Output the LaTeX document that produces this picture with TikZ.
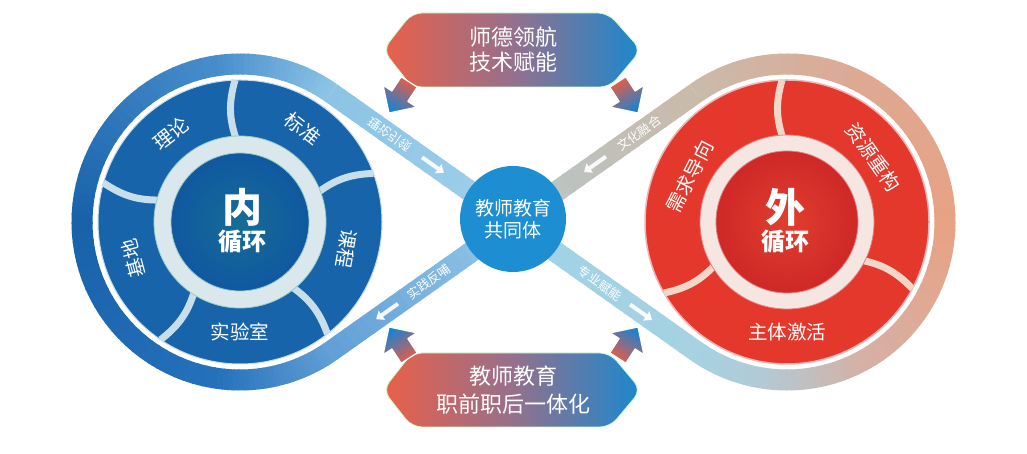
\documentclass[tikz,border=0pt]{standalone}
\usepackage{fontspec}
\newfontfamily\cjk{Noto Sans CJK SC}
\usetikzlibrary{calc,arrows.meta}
% band colours
\definecolor{lbA}{RGB}{140,196,229}
\definecolor{lbB}{RGB}{70,140,203}
\definecolor{lbC}{RGB}{24,98,170}
\definecolor{lbD}{RGB}{36,112,186}
\definecolor{lbE}{RGB}{98,160,214}
\definecolor{lsA}{RGB}{160,208,234}
\definecolor{lsB}{RGB}{150,200,232}
\definecolor{rbA}{RGB}{202,186,170}
\definecolor{rbB}{RGB}{222,168,146}
\definecolor{rbC}{RGB}{232,162,132}
\definecolor{rbD}{RGB}{214,176,164}
\definecolor{rbE}{RGB}{178,202,214}
\definecolor{rbF}{RGB}{166,210,226}
\definecolor{rsA}{RGB}{184,198,200}
\definecolor{rsB}{RGB}{160,210,230}
% discs
\definecolor{ldiscc}{RGB}{24,100,170}
\definecolor{linA}{RGB}{22,108,150}
\definecolor{linB}{RGB}{16,88,160}
\definecolor{lringc}{RGB}{218,232,238}
\definecolor{lringe}{RGB}{150,205,190}
\definecolor{ldivc}{RGB}{200,222,234}
\definecolor{rdiscc}{RGB}{228,56,44}
\definecolor{rinA}{RGB}{226,62,46}
\definecolor{rinB}{RGB}{206,40,40}
\definecolor{rringc}{RGB}{246,230,225}
\definecolor{rringe}{RGB}{230,130,130}
\definecolor{rdivc}{RGB}{242,214,200}
\definecolor{ctrc}{RGB}{30,142,210}
\definecolor{bred}{RGB}{234,96,72}
\definecolor{bmid}{RGB}{150,112,140}
\definecolor{bblue}{RGB}{26,136,206}
\definecolor{gred}{RGB}{232,92,70}
\definecolor{gblue}{RGB}{24,130,210}
\tikzset{
  bandseg/.style={line width=21pt, line cap=butt},
  lab/.style={text=white, inner sep=0pt, font={\cjk\fontsize{19.5pt}{20pt}\selectfont}},
  bigc/.style={text=white, inner sep=0pt, font={\cjk\bfseries\fontsize{40pt}{40pt}\selectfont}},
  midc/.style={text=white, inner sep=0pt, font={\cjk\bfseries\fontsize{24pt}{24pt}\selectfont}},
  stext/.style={text=white, inner sep=0pt, font={\cjk\fontsize{12.5pt}{13pt}\selectfont}},
  sarrow/.style={draw=white, line width=4pt, -{Triangle[length=7pt,width=11pt]}, opacity=0.9},
  btext/.style={text=white, align=center, inner sep=0pt},
  banner/.style={left color=bred, right color=bblue, middle color=bmid, rounded corners=10pt,
     draw=white!80!green, line width=0.8pt},
  ldiv/.style={draw=ldivc, line width=7pt},
  rdiv/.style={draw=rdivc, line width=7pt},
}
\newcommand\bandarc[6]{%
  \foreach \k in {0,...,23}{%
    \pgfmathsetmacro\ta{#3+(#4-(#3))*\k/24}%
    \pgfmathsetmacro\tb{#3+(#4-(#3))*(\k+1.2)/24}%
    \pgfmathtruncatemacro\pc{100*\k/23}%
    \draw[bandseg, draw=#6!\pc!#5] ($(#1)+(\ta:#2)$) arc[start angle=\ta, end angle=\tb, radius=#2];
  }}
\newcommand\bandstraight[4]{%
  \foreach \k in {0,...,19}{%
    \pgfmathsetmacro\fa{\k/20}%
    \pgfmathsetmacro\fb{min(1,(\k+1.2)/20)}%
    \pgfmathtruncatemacro\pc{100*\k/19}%
    \draw[bandseg, draw=#4!\pc!#3] ($(#1)!\fa!(#2)$) -- ($(#1)!\fb!(#2)$);
  }}
\newcommand\garrow[3]{%
  \shadedraw[top color=gred, bottom color=gblue, shading angle=#3, draw=white, line width=1.2pt, line join=round]
  (#1) -- ($(#1)+(#2:-20pt)+(#2+90:20pt)$) -- ($(#1)+(#2:-20pt)+(#2+90:9.5pt)$)
  -- ($(#1)+(#2:-37pt)+(#2+90:9.5pt)$) -- ($(#1)+(#2:-37pt)+(#2-90:9.5pt)$)
  -- ($(#1)+(#2:-20pt)+(#2-90:9.5pt)$) -- ($(#1)+(#2:-20pt)+(#2-90:20pt)$) -- cycle;}
\begin{document}
\begin{tikzpicture}[x=1pt,y=1pt]
\useasboundingbox (0,0) rectangle (1027,454);
\fill[white] (0,0) rectangle (1027,454);
\coordinate (CL) at (240,232);
\coordinate (CR) at (787,232);
\coordinate (X) at (513.5,232);
\coordinate (T1) at ($(CL)+(54.7:158pt)$);
\coordinate (T2) at ($(CL)+(-54.7:158pt)$);
\coordinate (T3) at ($(CR)+(125.3:158pt)$);
\coordinate (T4) at ($(CR)+(-125.3:158pt)$);
% ---- figure-eight band
\bandstraight{X}{T1}{lsA}{lbA}
\bandarc{CL}{158pt}{54.7}{100}{lbA}{lbB}
\bandarc{CL}{158pt}{100}{180}{lbB}{lbC}
\bandarc{CL}{158pt}{180}{260}{lbC}{lbD}
\bandarc{CL}{158pt}{260}{305.3}{lbD}{lbE}
\bandstraight{T2}{X}{lbE}{lsB}
\bandstraight{X}{T3}{rsA}{rbA}
\bandarc{CR}{158pt}{125.3}{60}{rbA}{rbB}
\bandarc{CR}{158pt}{60}{0}{rbB}{rbC}
\bandarc{CR}{158pt}{0}{-60}{rbC}{rbD}
\bandarc{CR}{158pt}{-60}{-100}{rbD}{rbE}
\bandarc{CR}{158pt}{-100}{-125.3}{rbE}{rbF}
\bandstraight{T4}{X}{rbF}{rsB}
% ---- left disc
\fill[ldiscc, draw=ldivc, line width=1pt] (CL) circle[radius=142pt];
\foreach \a in {92,20,-52,-124,164}{
  \draw[ldiv] ($(CL)+(\a:80pt)$) to[bend left=18] ($(CL)+(\a:142pt)$);
}
\filldraw[fill=lringc, draw=lringe, line width=0.8pt] (CL) circle[radius=86pt];
\shade[inner color=linA, outer color=linB] (CL) circle[radius=69pt];
\draw[lringe, line width=0.8pt] (CL) circle[radius=69pt];
% ---- right disc
\fill[rdiscc, draw=rringe!60!white, line width=1.5pt] (CR) circle[radius=142pt];
\foreach \a in {92,-28,-150}{
  \draw[rdiv] ($(CR)+(\a:80pt)$) to[bend left=18] ($(CR)+(\a:142pt)$);
}
\filldraw[fill=rringc, draw=rringe, line width=0.8pt] (CR) circle[radius=87pt];
\shade[inner color=rinA, outer color=rinB] (CR) circle[radius=71pt];
\draw[rringe, line width=0.8pt] (CR) circle[radius=71pt];
% ---- segment labels
\node[lab, rotate=38] (l1) at ($(CL)+(128:112pt)$) {理论};
\node[lab, rotate=-38] (l2) at ($(CL)+(56:112pt)$) {标准};
\node[lab, rotate=-100] (l3) at ($(CL)+(-14:110pt)$) {课程};
\node[lab] (l4) at ($(CL)+(-90:110pt)$) {实验室};
\node[lab, rotate=105] (l5) at ($(CL)+(199:113pt)$) {基地};
\node[lab, rotate=63] (r1) at ($(CR)+(155:107pt)$) {需求导向};
\node[lab, rotate=-55] (r2) at ($(CR)+(37:108pt)$) {资源重构};
\node[lab] (r3) at ($(CR)+(-90:110pt)$) {主体激活};
% ---- centre texts
\node[bigc] (nei) at (242,247) {内};
\node[midc] (xh1) at (242,212) {循环};
\node[bigc] (wai) at (785,247) {外};
\node[midc] (xh2) at (785,212) {循环};
% ---- strip labels and arrows
\node[stext, rotate=-35.3, yscale=-1] (s1) at ($(X)!0.678!(T1)$) {理论引领};
\node[stext, rotate=35.3] (s2) at ($(X)!0.689!(T3)$) {文化融合};
\node[stext, rotate=35.3] (s3) at ($(T2)!0.536!(X)$) {实践反哺};
\node[stext, rotate=-35.3] (s4) at ($(X)!0.475!(T4)$) {专业赋能};
\coordinate (a1s) at ($(X)!0.502!(T1)$);
\coordinate (a1e) at ($(X)!0.382!(T1)$);
\coordinate (a2s) at ($(X)!0.507!(T3)$);
\coordinate (a2e) at ($(X)!0.387!(T3)$);
\coordinate (a3s) at ($(T2)!0.366!(X)$);
\coordinate (a3e) at ($(T2)!0.246!(X)$);
\coordinate (a4s) at ($(X)!0.64!(T4)$);
\coordinate (a4e) at ($(X)!0.76!(T4)$);
\draw[sarrow] (a1s) -- (a1e);
\draw[sarrow] (a2s) -- (a2e);
\draw[sarrow] (a3s) -- (a3e);
\draw[sarrow] (a4s) -- (a4e);
% ---- centre circle
\node[circle, fill=ctrc, minimum size=106pt, inner sep=0pt, text=white, align=center,
      font={\cjk\fontsize{19pt}{21.5pt}\selectfont}] (ctr) at (513,235) {教师教育\\共同体};
% ---- banners
\shadedraw[banner]
  (383,404) -- (412,441) -- (608,441) -- (641,404) -- (610,367) -- (412,367) -- cycle;
\node[btext, font={\cjk\fontsize{22pt}{25pt}\selectfont}] (b1) at (513,404) {师德领航\\技术赋能};
\shadedraw[banner]
  (383,64) -- (412,101) -- (610,101) -- (641,64) -- (610,27) -- (412,27) -- cycle;
\node[btext, font={\cjk\fontsize{22pt}{28pt}\selectfont}] (b2) at (513,64) {教师教育\\职前职后一体化};
% ---- gradient arrows
\coordinate (g1) at (389,341);
\coordinate (g2) at (638,341);
\coordinate (g3) at (389,127);
\coordinate (g4) at (638,127);
\garrow{g1}{237}{327}
\garrow{g2}{303}{393}
\garrow{g3}{123}{213}
\garrow{g4}{57}{147}
\end{tikzpicture}
\end{document}
